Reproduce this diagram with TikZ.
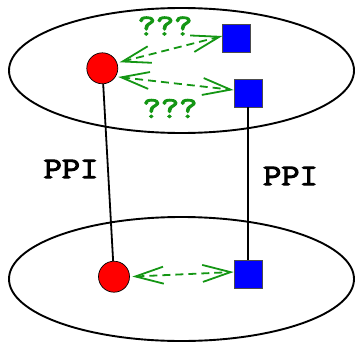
\documentclass[tikz,border=0pt]{standalone}
\usepackage{fontspec}
\newfontfamily\monob[FakeBold=3.5,FakeStretch=1.18]{Latin Modern Mono}
\usetikzlibrary{arrows.meta}
\definecolor{qgreen}{RGB}{20,150,20}
\tikzset{
  plane/.style={draw=black, line width=1.9pt},
  protein/.style={circle, draw=black, fill=red, line width=0.7pt, minimum size=31pt, inner sep=0pt},
  gene/.style={rectangle, draw=black!70, fill=blue, line width=0.7pt, minimum size=28pt, inner sep=0pt},
  link/.style={draw=black, line width=1.8pt},
  unknown/.style={draw=qgreen, line width=1.8pt, dash pattern=on 8pt off 5pt,
     {Straight Barb[length=28pt,width=17pt]}-{Straight Barb[length=28pt,width=17pt]}},
  lab/.style={font=\monob\fontsize{30}{30}\selectfont, inner sep=0pt},
}
\begin{document}
\begin{tikzpicture}[x=1pt,y=-1pt]
\useasboundingbox (0,0) rectangle (355,342);
\draw[plane] (181.5,70.5) ellipse [x radius=172.5pt, y radius=62.5pt];
\draw[plane] (181.5,279) ellipse [x radius=172.5pt, y radius=62pt];
\node[protein] (c1) at (102.3,68.3) {};
\node[protein] (c2) at (114,276.7) {};
\node[gene] (s1) at (236.7,38) {};
\node[gene] (s2) at (248,93) {};
\node[gene] (s3) at (248,274.5) {};
\draw[link] (c1) -- (c2);
\draw[link] (s2) -- (s3);
\draw[unknown, shorten <=2.5pt] (c1.20) -- ([yshift=2pt]s1.west);
\draw[unknown, shorten <=2.5pt] (c1.-32) -- ([yshift=3pt]s2.west);
\draw[unknown, shorten <=2.5pt] (c2.east) -- ([yshift=2.5pt]s3.west);
\node[lab, text=qgreen] (q1) at (165,26) {???};
\node[lab, text=qgreen] (q2) at (170,108.5) {???};
\node[lab] (p1) at (71,169) {PPI};
\node[lab] (p2) at (290.5,176) {PPI};
\end{tikzpicture}
\end{document}
